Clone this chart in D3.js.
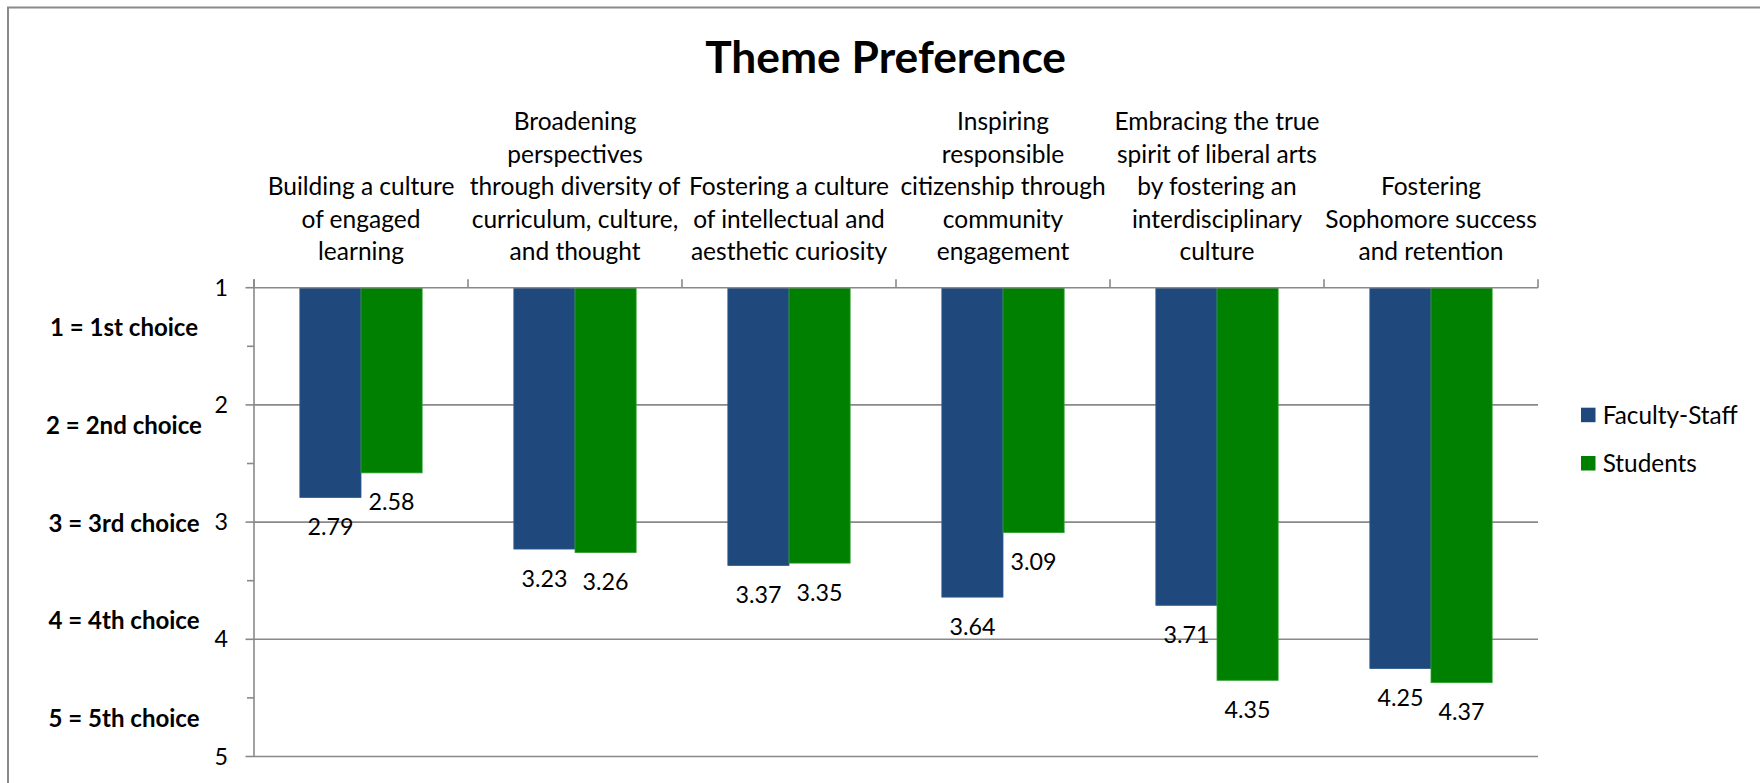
<!DOCTYPE html>
<html>
<head>
<meta charset="utf-8">
<script src="https://cdn.jsdelivr.net/npm/d3@7"></script>
<style>
    html, body { margin: 0; padding: 0; background: #fff; }
    svg { display: block; font-family: Lato, "Noto Sans", sans-serif; }
</style>
</head>
<body>
<svg id="chart" width="1760" height="783"></svg>
<script>
// ---------------------------------------------------------------------------
// Data
// ---------------------------------------------------------------------------
const themes = [
    "Building a culture\nof engaged\nlearning",
    "Broadening\nperspectives\nthrough diversity of\ncurriculum, culture,\nand thought",
    "Fostering a culture\nof intellectual and\naesthetic curiosity",
    "Inspiring\nresponsible\ncitizenship through\ncommunity\nengagement",
    "Embracing the true\nspirit of liberal arts\nby fostering an\ninterdisciplinary\nculture",
    "Fostering\nSophomore success\nand retention"
];
const seriesNames = ["Faculty-Staff", "Students"];
const facultyStaff = [2.79, 3.23, 3.37, 3.64, 3.71, 4.25];
const students = [2.58, 3.26, 3.35, 3.09, 4.35, 4.37];
const yTicks = [1, 2, 3, 4, 5];
const yMinorTicks = [1.5, 2.5, 3.5, 4.5];
const choiceLabels = ["1 = 1st choice", "2 = 2nd choice", "3 = 3rd choice", "4 = 4th choice", "5 = 5th choice"];

const COLORS = { "Faculty-Staff": "#1f497d", "Students": "#008000" };
const EDGE = { "Faculty-Staff": "#2f5a8e", "Students": "#2ea02e" };
const GRID = "#898989";

// ---------------------------------------------------------------------------
// Layout
// ---------------------------------------------------------------------------
const svg = d3.select("#chart");
const plot = { left: 254, right: 1538, top: 287.7, bottom: 756.5 };

// pick a font size that gives a string the width it has in the original
function fitFont(sample, weight, targetWidth) {
    const t = svg.append("text")
        .attr("font-size", 100)
        .attr("font-weight", weight)
        .text(sample);
    const w = t.node().getComputedTextLength();
    t.remove();
    return 100 * targetWidth / w;
}

const titleSize = fitFont("Theme Preference", "bold", 361);
const catSize = fitFont("Fostering a culture", "normal", 200);
const choiceSize = fitFont("2 = 2nd choice", "bold", 156);
const numSize = fitFont("2.79", "normal", 46);
const legendSize = fitFont("Faculty-Staff", "normal", 135);

const x0 = d3.scaleBand()
    .domain(d3.range(themes.length))
    .range([plot.left, plot.right]);

const x1 = d3.scaleBand()
    .domain(seriesNames)
    .range([0, x0.bandwidth()])
    .paddingInner(0)
    .paddingOuter(0.75);

// reversed scale: 1st choice on top
const y = d3.scaleLinear()
    .domain([1, 5])
    .range([plot.top, plot.bottom]);

// chart border (cut off at right and bottom in the original)
svg.append("path")
    .attr("d", `M8,${783 + 5}V7.5H${1760 + 5}`)
    .attr("fill", "none")
    .attr("stroke", "#8a8a8a")
    .attr("stroke-width", 2);

// title
svg.append("text")
    .attr("x", 885.6)
    .attr("y", 73.3)
    .attr("text-anchor", "middle")
    .attr("font-weight", "bold")
    .attr("font-size", titleSize)
    .attr("fill", "#000")
    .text("Theme Preference");

// gridlines
svg.append("g")
    .selectAll("line")
    .data(yTicks.slice(1))
    .join("line")
    .attr("x1", plot.left)
    .attr("x2", plot.right)
    .attr("y1", d => y(d))
    .attr("y2", d => y(d))
    .attr("stroke", GRID)
    .attr("stroke-width", 1.6);

// bars
const rows = themes.map((t, i) => ({
    i,
    values: [
        { key: "Faculty-Staff", value: facultyStaff[i] },
        { key: "Students", value: students[i] }
    ]
}));

const groups = svg.append("g")
    .selectAll("g")
    .data(rows)
    .join("g")
    .attr("transform", d => `translate(${x0(d.i)},0)`);

groups.selectAll("rect")
    .data(d => d.values)
    .join("rect")
    .attr("x", d => x1(d.key))
    .attr("y", y(1))
    .attr("width", x1.bandwidth())
    .attr("height", d => y(d.value) - y(1))
    .attr("fill", d => COLORS[d.key])
    .attr("stroke", d => EDGE[d.key])
    .attr("stroke-width", 0.8);

// data labels below bar ends
groups.selectAll("text")
    .data(d => d.values)
    .join("text")
    .attr("x", d => x1(d.key) + x1.bandwidth() / 2)
    .attr("y", d => y(d.value) + 37.5)
    .attr("text-anchor", "middle")
    .attr("font-size", numSize)
    .attr("fill", "#000")
    .text(d => d3.format(".2f")(d.value));

// value axis (left)
const axisG = svg.append("g");
axisG.append("line")
    .attr("x1", plot.left).attr("x2", plot.left)
    .attr("y1", plot.top - 8.5).attr("y2", plot.bottom)
    .attr("stroke", GRID).attr("stroke-width", 1.6);

axisG.selectAll(".major")
    .data(yTicks)
    .join("line")
    .attr("class", "major")
    .attr("x1", plot.left - 8.5).attr("x2", plot.left)
    .attr("y1", d => y(d)).attr("y2", d => y(d))
    .attr("stroke", GRID).attr("stroke-width", 1.6);

axisG.selectAll(".minor")
    .data(yMinorTicks)
    .join("line")
    .attr("class", "minor")
    .attr("x1", plot.left - 7).attr("x2", plot.left)
    .attr("y1", d => y(d)).attr("y2", d => y(d))
    .attr("stroke", GRID).attr("stroke-width", 1.6);

axisG.selectAll("text")
    .data(yTicks)
    .join("text")
    .attr("x", 228)
    .attr("y", d => y(d))
    .attr("dy", "0.35em")
    .attr("text-anchor", "end")
    .attr("font-size", numSize)
    .attr("fill", "#000")
    .text(d => d);

// category axis along the top
const catAxis = svg.append("g");
catAxis.append("line")
    .attr("x1", plot.left).attr("x2", plot.right)
    .attr("y1", plot.top).attr("y2", plot.top)
    .attr("stroke", GRID).attr("stroke-width", 1.6);

catAxis.selectAll(".tick")
    .data(d3.range(themes.length + 1))
    .join("line")
    .attr("class", "tick")
    .attr("x1", d => d < themes.length ? x0(d) : plot.right)
    .attr("x2", d => d < themes.length ? x0(d) : plot.right)
    .attr("y1", plot.top - 8.5).attr("y2", plot.top)
    .attr("stroke", GRID).attr("stroke-width", 1.6);

const lineGap = 32.4;
catAxis.selectAll(".cat")
    .data(themes)
    .join("text")
    .attr("class", "cat")
    .attr("text-anchor", "middle")
    .attr("font-size", catSize)
    .attr("fill", "#000")
    .each(function (d, i) {
        const lines = d.split("\n");
        const cx = x0(i) + x0.bandwidth() / 2;
        d3.select(this).selectAll("tspan")
            .data(lines)
            .join("tspan")
            .attr("x", cx)
            .attr("y", (l, j) => 260 - (lines.length - 1 - j) * lineGap)
            .text(l => l);
    });

// choice labels on the far left
svg.append("g")
    .selectAll("text")
    .data(choiceLabels)
    .join("text")
    .attr("x", 124)
    .attr("y", (d, i) => 328 + i * 97.6)
    .attr("dy", "0.35em")
    .attr("text-anchor", "middle")
    .attr("font-weight", "bold")
    .attr("font-size", choiceSize)
    .attr("fill", "#000")
    .text(d => d);

// legend
const legend = svg.append("g")
    .selectAll("g")
    .data(seriesNames)
    .join("g")
    .attr("transform", (d, i) => `translate(1581,${407.7 + i * 48.3})`);

legend.append("rect")
    .attr("width", 14.5)
    .attr("height", 14.5)
    .attr("fill", d => COLORS[d]);

legend.append("text")
    .attr("x", 21.7)
    .attr("y", 7.3)
    .attr("dy", "0.35em")
    .attr("font-size", legendSize)
    .attr("fill", "#000")
    .text(d => d);
</script>
</body>
</html>
